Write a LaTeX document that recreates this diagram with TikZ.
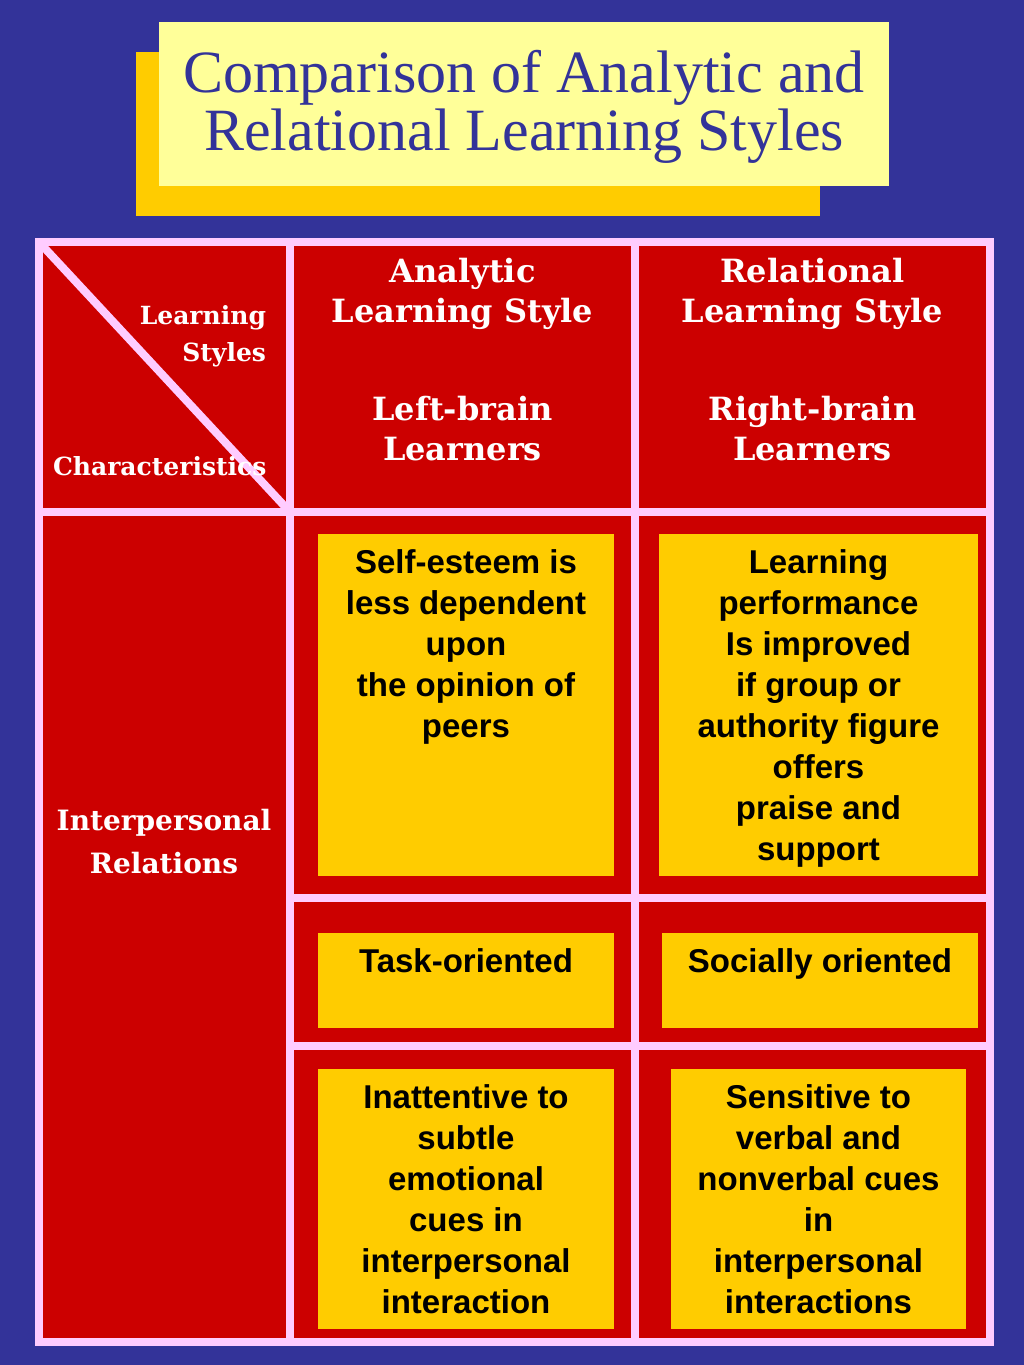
\documentclass[tikz,border=0pt]{standalone}
\usepackage{fontspec}
\setmainfont{Liberation Serif}
\newfontfamily\headfont{DejaVu Serif}
\newfontfamily\bodyfont{Liberation Sans}
\usetikzlibrary{positioning}
\definecolor{bgblue}{HTML}{333399}
\definecolor{cellred}{HTML}{CC0000}
\definecolor{gridpink}{HTML}{FFCCFF}
\definecolor{boxgold}{HTML}{FFCC00}
\definecolor{titlecream}{HTML}{FFFF99}

\begin{document}
\begin{tikzpicture}[x=0.75pt,y=-0.75pt]
\tikzstyle{every node}=[inner sep=0pt, outer sep=0pt]
\tikzstyle{gold}=[fill=boxgold, rectangle]
\tikzstyle{grid}=[draw=gridpink, line width=6pt]
\tikzstyle{head}=[text=white, align=center, font=\headfont\bfseries\fontsize{24}{30}\selectfont]
\tikzstyle{corner}=[text=white, font=\headfont\bfseries\fontsize{18.75}{27.75}\selectfont]
\tikzstyle{body}=[text=black, align=center, font=\bodyfont\bfseries\fontsize{24.75}{30.75}\selectfont]
\fill[bgblue] (0,0) rectangle (1024,1365);
% title
\node (shadow) [gold, minimum width=513pt, minimum height=123pt] at (478,134) {};
\node (tbox) [fill=titlecream, minimum width=547.5pt, minimum height=123pt] at (524,104) {};
\node (title) [text=bgblue, align=center, font=\fontsize{45}{43.5}\selectfont] at (524,107) {Comparison of Analytic and\\Relational Learning Styles};
% table
\fill[cellred] (39,242) rectangle (990,1342);
\node (a11) [gold, minimum width=222pt, minimum height=256.5pt] at (466,705) {};
\node (a12) [gold, minimum width=239.25pt, minimum height=256.5pt] at (818.5,705) {};
\node (a21) [gold, minimum width=222pt, minimum height=71.25pt] at (466,980.5) {};
\node (a22) [gold, minimum width=237pt, minimum height=71.25pt] at (820,980.5) {};
\node (a31) [gold, minimum width=222pt, minimum height=195pt] at (466,1199) {};
\node (a32) [gold, minimum width=221.25pt, minimum height=195pt] at (818.5,1199) {};
\draw[grid] (39,242) rectangle (990,1342);
\draw[grid] (290,242) -- (290,1342);
\draw[grid] (635,242) -- (635,1342);
\draw[grid] (39,512) -- (990,512);
\draw[grid] (290,898) -- (990,898);
\draw[grid] (290,1046) -- (990,1046);
\draw[grid] (39,242) -- (290,512);
% headings
\node (styles) [corner, anchor=north east, align=right] at (266,305) {Learning\\Styles};
\node (chars) [corner, anchor=base west] at (53,475) {Characteristics};
\node (hana) [head, anchor=north] at (462.5,258) {Analytic\\Learning Style\\[43.5pt]Left-brain\\Learners};
\node (hrel) [head, anchor=north] at (812.5,258) {Relational\\Learning Style\\[43.5pt]Right-brain\\Learners};
\node (inter) [text=white, align=center, anchor=north, font=\headfont\bfseries\fontsize{21}{32.25}\selectfont] at (164,809) {Interpersonal\\Relations};
% cell texts
\node (t11) [body, below=12pt of a11.north] {Self-esteem is\\less dependent\\upon\\the opinion of\\peers};
\node (t12) [body, below=12pt of a12.north] {Learning\\performance\\Is improved\\if group or\\authority figure\\offers\\praise and\\support};
\node (t21) [body, below=12pt of a21.north] {Task-oriented};
\node (t22) [body, below=12pt of a22.north] {Socially oriented};
\node (t31) [body, below=12pt of a31.north] {Inattentive to\\subtle\\emotional\\cues in\\interpersonal\\interaction};
\node (t32) [body, below=12pt of a32.north] {Sensitive to\\verbal and\\nonverbal cues\\in\\interpersonal\\interactions};
\end{tikzpicture}
\end{document}
